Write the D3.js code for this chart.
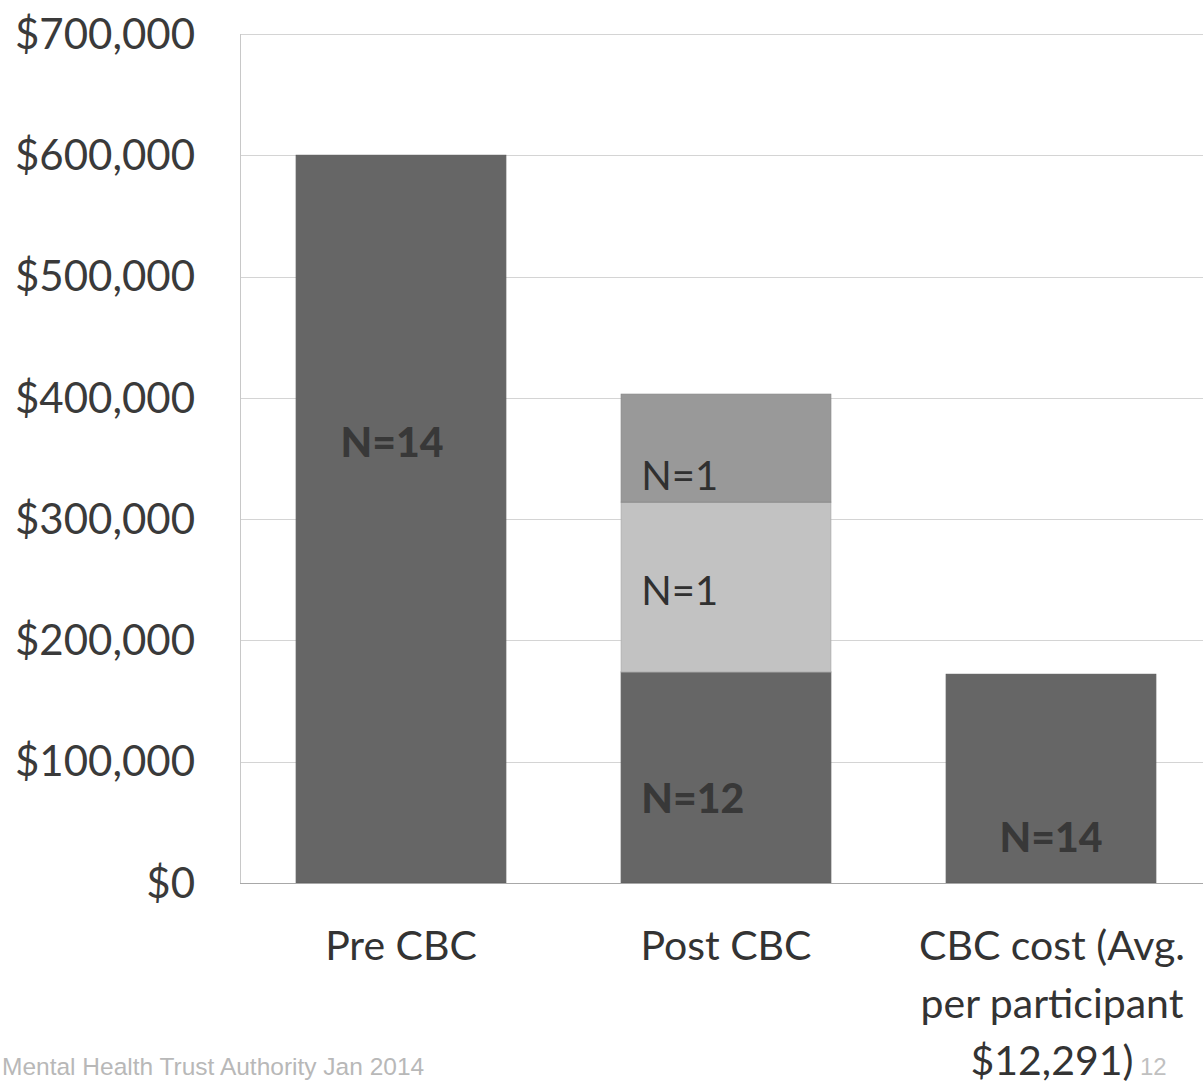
<!DOCTYPE html>
<html><head><meta charset="utf-8">
<script src="https://cdn.jsdelivr.net/npm/d3@7"></script>
<style>body{margin:0;background:#fff;overflow:hidden}svg{display:block}</style>
</head><body>
<script>
const categories = ["Pre CBC", "Post CBC", "CBC cost (Avg. per participant $12,291)"];
const categoryLines = [["Pre CBC"], ["Post CBC"], ["CBC cost (Avg.", "per participant", "$12,291)"]];
const seriesNames = ["base", "middle", "top"];
const baseValues = [600000, 174000, 172074];
const middleValues = [0, 140000, 0];
const topValues = [0, 89000, 0];
const seriesColors = ["#666666", "#c2c2c2", "#999999"];
const yTicks = [0, 100000, 200000, 300000, 400000, 500000, 600000, 700000];
const labelCats = [0, 1, 1, 1, 2];
const labelValues = [363000, 336000, 241000, 70000, 38000];
const labelTexts = ["N=14", "N=1", "N=1", "N=12", "N=14"];
const labelBold = [true, false, false, true, true];
const footerText = "Mental Health Trust Authority Jan 2014";
const pageNum = "12";

const W = 1203, H = 1083;
const svg = d3.select("body").append("svg").attr("width", W).attr("height", H);
const font = "Lato, 'Open Sans', sans-serif";

const x = d3.scaleBand().domain(categories).range([238.5, 1213.5]).paddingInner(0.355).paddingOuter(0.1775);
const y = d3.scaleLinear().domain([0, 700000]).range([883, 34]);

svg.append("g").selectAll("line").data(yTicks.filter(d => d > 0)).join("line")
  .attr("x1", 240).attr("x2", W).attr("y1", d => Math.round(y(d)) + 0.5).attr("y2", d => Math.round(y(d)) + 0.5)
  .attr("stroke", "#d4d4d4").attr("stroke-width", 1);

svg.append("line").attr("x1", 240.5).attr("x2", 240.5).attr("y1", y(700000)).attr("y2", y(0))
  .attr("stroke", "#c8c8c8");

const rows = categories.map((c, i) => ({cat: c, base: baseValues[i], middle: middleValues[i], top: topValues[i]}));
const stack = d3.stack().keys(seriesNames)(rows);
svg.append("g").selectAll("g").data(stack).join("g")
  .attr("fill", (d, i) => seriesColors[i])
  .attr("stroke", (d, i) => d3.color(seriesColors[i]).darker(0.25))
  .selectAll("rect").data(d => d.filter(s => s[1] - s[0] > 0)).join("rect")
  .attr("x", d => x(d.data.cat))
  .attr("width", x.bandwidth())
  .attr("y", d => y(d[1]))
  .attr("height", d => y(d[0]) - y(d[1]));

svg.append("line").attr("x1", 240).attr("x2", W).attr("y1", y(0) + 0.5).attr("y2", y(0) + 0.5)
  .attr("stroke", "#a8a8a8");

const yAxis = d3.axisLeft(y).tickValues(yTicks).tickSize(0).tickPadding(0)
  .tickFormat(d => "$" + d3.format(",")(d));
const ga = svg.append("g").attr("transform", "translate(195,0)").call(yAxis);
ga.select(".domain").remove();
ga.selectAll("text").attr("font-family", font).attr("font-size", 42).attr("fill", "#3a3a3a").attr("dy", "0.34em");

categories.forEach((c, i) => {
  const cx = x(c) + x.bandwidth() / 2 + (i === 2 ? 1 : 0);
  const t = svg.append("text").attr("text-anchor", "middle").attr("font-family", font)
    .attr("font-size", 41).attr("fill", "#333");
  categoryLines[i].forEach((ln, k) => {
    t.append("tspan").attr("x", cx).attr("y", 960 + k * 57.5).text(ln);
  });
});

labelTexts.forEach((txt, i) => {
  const c = categories[labelCats[i]];
  const isPost = labelCats[i] === 1;
  const xpos = isPost ? x(c) + 20 : x(c) + x.bandwidth() / 2 + (labelCats[i] === 0 ? -9 : 0);
  svg.append("text").attr("x", xpos).attr("y", y(labelValues[i])).attr("dy", "0.36em")
    .attr("text-anchor", isPost ? "start" : "middle")
    .attr("font-family", font).attr("font-size", labelBold[i] ? 41 : 40)
    .attr("font-weight", labelBold[i] ? 900 : "normal")
    .attr("fill", labelBold[i] ? "#383838" : "#303030").text(txt);
});

svg.append("text").attr("x", 2).attr("y", 1075).attr("font-family", "'Liberation Sans', Arial, sans-serif")
  .attr("font-size", 24.5).attr("fill", "#b8b8b8").text(footerText);
svg.append("text").attr("x", 1140).attr("y", 1075).attr("font-family", "'Liberation Sans', Arial, sans-serif")
  .attr("font-size", 24).attr("fill", "#c0c0c0").text(pageNum);
</script>
</body></html>
